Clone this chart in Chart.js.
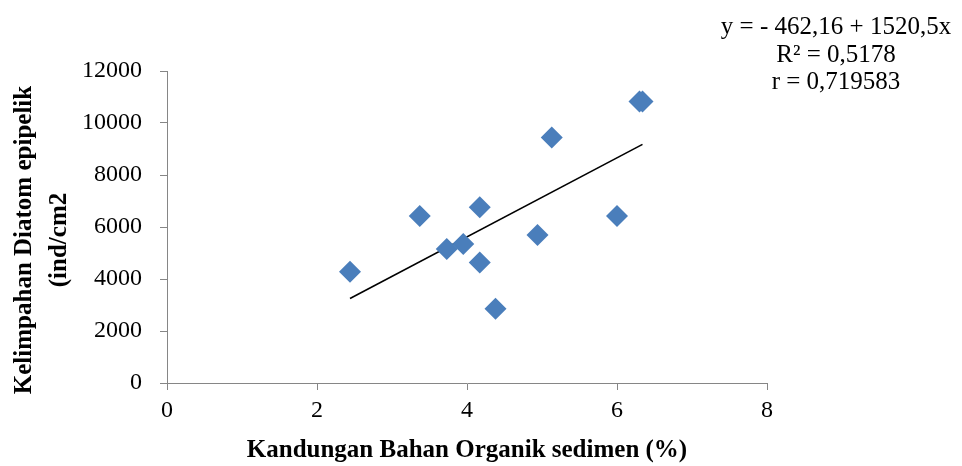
<!DOCTYPE html>
<html>
<head>
<meta charset="utf-8">
<script src="https://cdn.jsdelivr.net/npm/chart.js@4"></script>
<style>
  html, body { margin: 0; padding: 0; background: #fff; }
  #wrap { position: relative; width: 962px; height: 466px; }
  #eq { position: absolute; left: 695px; top: 12px; width: 282px; text-align: center;
        font-family: "Liberation Serif", "Times New Roman", serif; font-size: 25px; line-height: 27.5px; color: #000; }
</style>
</head>
<body>
<div id="wrap">
  <canvas id="c" width="962" height="466"></canvas>
  <div id="eq">y = - 462,16 + 1520,5x<br>R² = 0,5178<br>r = 0,719583</div>
</div>
<script>
// Data
const organicMatter = [2.44, 3.37, 3.73, 3.95, 4.17, 4.17, 4.38, 4.94, 5.13, 6.00, 6.30, 6.34];
const diatomAbundance = [4280, 6420, 5150, 5350, 6760, 4630, 2860, 5690, 9440, 6420, 10830, 10830];
const trendX = [2.44, 6.34];
const trendY = [3248, 9178];
const xTicks = [0, 2, 4, 6, 8];
const yTicks = [0, 2000, 4000, 6000, 8000, 10000, 12000];
const xTitle = 'Kandungan Bahan Organik sedimen (%)';
const yTitle = ['Kelimpahan Diatom epipelik', '(ind/cm2'];

const serif = '"Liberation Serif", "Times New Roman", serif';
const axisGray = '#868686';

const yTitlePlugin = {
  id: 'yTitlePlugin',
  afterDraw(chart) {
    const ctx = chart.ctx;
    const area = chart.chartArea;
    ctx.save();
    ctx.fillStyle = '#000';
    ctx.font = 'bold 25px ' + serif;
    ctx.textAlign = 'center';
    ctx.textBaseline = 'middle';
    const cy = (area.top + area.bottom) / 2 + 13;
    const xs = [25, 60];
    yTitle.forEach((line, i) => {
      ctx.save();
      ctx.translate(xs[i], cy);
      ctx.rotate(-Math.PI / 2);
      ctx.fillText(line, 0, 0);
      ctx.restore();
    });
    ctx.restore();
  }
};

new Chart(document.getElementById('c'), {
  type: 'scatter',
  data: {
    datasets: [
      {
        data: organicMatter.map((x, i) => ({ x: x, y: diatomAbundance[i] })),
        pointStyle: 'rectRot',
        pointRadius: 11,
        pointHoverRadius: 11,
        backgroundColor: '#4A7EBB',
        borderColor: '#4A7EBB',
        borderWidth: 0
      },
      {
        type: 'line',
        data: trendX.map((x, i) => ({ x: x, y: trendY[i] })),
        borderColor: '#000',
        borderWidth: 1.6,
        pointRadius: 0,
        fill: false
      }
    ]
  },
  plugins: [yTitlePlugin],
  options: {
    responsive: false,
    animation: false,
    events: [],
    layout: { padding: { top: 71, right: 195, left: 0, bottom: 0 } },
    plugins: { legend: { display: false }, tooltip: { enabled: false } },
    scales: {
      x: {
        type: 'linear',
        min: 0, max: 8,
        afterBuildTicks: (s) => { s.ticks = xTicks.map(v => ({ value: v })); },
        afterFit: (s) => { s.height = 83; },
        border: { color: axisGray, width: 1 },
        grid: { drawOnChartArea: false, drawTicks: true, tickLength: 7, tickColor: axisGray },
        ticks: { color: '#000', padding: 6, font: { family: serif, size: 24 }, callback: (v) => String(v) },
        title: {
          display: true,
          text: xTitle,
          color: '#000',
          font: { family: serif, size: 25, weight: 'bold' },
          padding: { top: 2, bottom: 0 }
        }
      },
      y: {
        type: 'linear',
        min: 0, max: 12000,
        afterBuildTicks: (s) => { s.ticks = yTicks.map(v => ({ value: v })); },
        afterFit: (s) => { s.width = 167; },
        border: { color: axisGray, width: 1 },
        grid: { drawOnChartArea: false, drawTicks: true, tickLength: 7, tickColor: axisGray },
        ticks: { color: '#000', padding: 18, font: { family: serif, size: 24 }, callback: (v) => String(v) },
        title: { display: false }
      }
    }
  }
});
</script>
</body>
</html>
